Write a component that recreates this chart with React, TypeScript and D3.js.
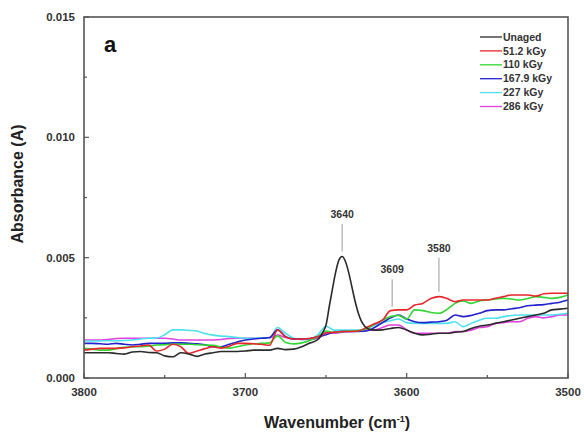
import React from "react";
import * as d3 from "d3";

// Shared wavenumber grid (cm^-1) for the irradiated series
const wavenumbers: number[] = d3.range(3800, 3499, -5);

// Absorbance values, in units of 1e-3 A
const unagedWn: number[] = [
  3800, 3795, 3790, 3785, 3780, 3775, 3770, 3765, 3760, 3755, 3750, 3745, 3740, 3735, 3730,
  3725, 3720, 3715, 3710, 3705, 3700, 3695, 3690, 3685, 3680, 3675, 3670, 3665, 3660, 3655,
  3652, 3650, 3648, 3646, 3644, 3642, 3640, 3638, 3636, 3634, 3632, 3630, 3628, 3626, 3624,
  3620, 3615, 3610, 3605, 3600, 3595, 3590, 3585, 3580, 3575, 3570, 3565, 3560, 3555, 3550,
  3545, 3540, 3535, 3530, 3525, 3520, 3515, 3510, 3505, 3500,
];
const unaged: number[] = [
  1.05, 1.05, 1.05, 1.05, 1.02, 0.99, 1.08, 1.1, 1.06, 1.05, 0.92, 0.88, 1.05, 1.0, 0.9,
  1.0, 1.05, 1.1, 1.1, 1.1, 1.12, 1.16, 1.16, 1.16, 1.23, 1.18, 1.2, 1.3, 1.45, 1.6,
  1.9, 2.2, 2.96, 3.7, 4.4, 4.9, 5.05, 4.85, 4.4, 3.8, 3.2, 2.7, 2.35, 2.15, 2.05,
  1.99, 2.0, 2.06, 2.1, 1.99, 1.86, 1.79, 1.82, 1.86, 1.86, 1.9, 1.93, 2.06, 2.15, 2.2,
  2.27, 2.34, 2.41, 2.48, 2.55, 2.62, 2.69, 2.83, 2.86, 2.9,
];
const kGy51: number[] = [
  1.16, 1.2, 1.23, 1.23, 1.23, 1.25, 1.3, 1.33, 1.37, 1.12, 1.2, 1.4, 1.3, 1.02, 1.12,
  1.22, 1.3, 1.24, 1.32, 1.44, 1.44, 1.42, 1.4, 1.36, 2.0, 1.7, 1.62, 1.62, 1.64, 1.72,
  1.86, 1.9, 1.93, 1.93, 1.95, 2.1, 2.25, 2.4, 2.8, 2.83, 2.83, 3.03, 3.1, 3.3, 3.38,
  3.3, 3.17, 3.24, 3.24, 3.24, 3.24, 3.31, 3.38, 3.45, 3.45, 3.45, 3.4, 3.5, 3.52, 3.52, 3.52,
];
const kGy110: number[] = [
  1.23, 1.2, 1.16, 1.16, 1.22, 1.28, 1.3, 1.3, 1.32, 1.37, 1.38, 1.4, 1.4, 1.4, 1.38,
  1.37, 1.36, 1.28, 1.24, 1.3, 1.37, 1.42, 1.44, 1.46, 1.75, 1.48, 1.42, 1.46, 1.56, 1.72,
  1.95, 1.9, 1.93, 1.95, 1.97, 2.05, 2.22, 2.4, 2.55, 2.6, 2.45, 2.83, 2.8, 2.72, 2.69,
  2.85, 3.1, 3.2, 3.1, 3.2, 3.24, 3.28, 3.31, 3.28, 3.24, 3.3, 3.38, 3.35, 3.31, 3.35, 3.45,
];
const kGy167: number[] = [
  1.44, 1.44, 1.42, 1.4, 1.44, 1.4, 1.37, 1.4, 1.44, 1.44, 1.44, 1.46, 1.46, 1.44, 1.42,
  1.38, 1.3, 1.3, 1.4, 1.5, 1.58, 1.62, 1.65, 1.68, 2.0, 1.72, 1.62, 1.62, 1.64, 1.7,
  1.8, 1.9, 1.93, 1.93, 1.93, 1.95, 2.1, 2.3, 2.5, 2.62, 2.45, 2.34, 2.3, 2.32, 2.34,
  2.4, 2.62, 2.55, 2.6, 2.69, 2.8, 2.83, 2.83, 2.88, 2.92, 3.0, 3.03, 3.05, 3.1, 3.15, 3.24,
];
const kGy227: number[] = [
  1.54, 1.54, 1.54, 1.55, 1.55, 1.56, 1.58, 1.62, 1.65, 1.66, 1.8, 2.0, 2.0, 1.98, 1.95,
  1.85, 1.78, 1.74, 1.72, 1.68, 1.65, 1.65, 1.66, 1.66, 2.1, 1.85, 1.65, 1.6, 1.62, 1.8,
  2.15, 1.99, 1.99, 1.99, 1.99, 2.05, 2.2, 2.3, 2.38, 2.45, 2.3, 2.27, 2.27, 2.27, 2.27,
  2.27, 2.34, 2.13, 2.27, 2.4, 2.48, 2.48, 2.55, 2.6, 2.62, 2.62, 2.62, 2.62, 2.62, 2.65, 2.69,
];
const kGy286: number[] = [
  1.58, 1.58, 1.58, 1.6, 1.64, 1.65, 1.65, 1.65, 1.65, 1.65, 1.65, 1.62, 1.58, 1.58, 1.58,
  1.58, 1.58, 1.6, 1.64, 1.65, 1.65, 1.65, 1.65, 1.66, 1.78, 1.68, 1.62, 1.6, 1.6, 1.65,
  1.9, 1.86, 1.9, 1.93, 1.95, 1.99, 2.0, 2.1, 2.2, 2.2, 2.0, 1.86, 1.86, 1.86, 1.86,
  1.86, 1.93, 1.93, 1.99, 2.1, 2.13, 2.27, 2.3, 2.34, 2.34, 2.48, 2.55, 2.5, 2.55, 2.62, 2.62,
];

const seriesNames: string[] = ["Unaged", "51.2 kGy", "110 kGy", "167.9 kGy", "227 kGy", "286 kGy"];
const seriesColors: string[] = ["#2a2a2a", "#e8262a", "#33d633", "#2222cc", "#4fe0f0", "#e040e0"];

const xTicks: number[] = [3800, 3700, 3600, 3500];
const xMinorTicks: number[] = [3750, 3650, 3550];
const yTicks: number[] = [0, 0.005, 0.01, 0.015];
const yMinorTicks: number[] = [0.0025, 0.0075, 0.0125];

const peakLabels: number[] = [3640, 3609, 3580];
const peakLabelTops: number[] = [0.0064, 0.0041, 0.005];
const peakLabelBottoms: number[] = [0.00525, 0.00296, 0.00358];

export default function App() {
  const W = 584, H = 432;
  const left = 84, right = 568, top = 17, bottom = 378;
  const x = d3.scaleLinear().domain([3800, 3500]).range([left, right]);
  const y = d3.scaleLinear().domain([0, 0.015]).range([bottom, top]);
  const font = "'Liberation Sans', Arial, sans-serif";
  const textColor = "#333";

  const series = [
    { wn: unagedWn, vals: unaged },
    { wn: wavenumbers, vals: kGy51 },
    { wn: wavenumbers, vals: kGy110 },
    { wn: wavenumbers, vals: kGy167 },
    { wn: wavenumbers, vals: kGy227 },
    { wn: wavenumbers, vals: kGy286 },
  ];
  const line = d3
    .line<[number, number]>()
    .x((d) => x(d[0]))
    .y((d) => y(d[1] * 1e-3))
    .curve(d3.curveMonotoneX);

  const drawOrder = [5, 4, 3, 2, 1, 0];

  return (
    <svg width={W} height={H} style={{ position: "absolute", left: 0, top: 0, background: "#fff" }}>
      <rect x={0} y={0} width={W} height={H} fill="#fff" />
      {drawOrder.map((i) => {
        const s = series[i];
        const pts: [number, number][] = s.wn.map((w, k) => [w, s.vals[k]]);
        return (
          <path key={i} d={line(pts) || ""} fill="none" stroke={seriesColors[i]} strokeWidth={1.6} strokeLinejoin="round" />
        );
      })}

      {/* frame */}
      <rect x={left} y={top} width={right - left} height={bottom - top} fill="none" stroke="#555" strokeWidth={1.6} />

      {/* y ticks */}
      {yTicks.map((t) => (
        <g key={"y" + t}>
          <line x1={left} x2={left + 5} y1={y(t)} y2={y(t)} stroke="#555" strokeWidth={1.2} />
          <text x={left - 9} y={y(t)} dy="0.35em" textAnchor="end" fontFamily={font} fontWeight="bold" fontSize={11.5} fill={textColor}>
            {d3.format(".3f")(t)}
          </text>
        </g>
      ))}
      {yMinorTicks.map((t) => (
        <line key={"ym" + t} x1={left} x2={left + 3} y1={y(t)} y2={y(t)} stroke="#555" strokeWidth={1.2} />
      ))}

      {/* x ticks */}
      {xTicks.map((t) => (
        <g key={"x" + t}>
          <line x1={x(t)} x2={x(t)} y1={bottom} y2={bottom - 5} stroke="#555" strokeWidth={1.2} />
          <text x={x(t)} y={bottom + 18} textAnchor="middle" fontFamily={font} fontWeight="bold" fontSize={11.5} fill={textColor}>
            {t}
          </text>
        </g>
      ))}
      {xMinorTicks.map((t) => (
        <line key={"xm" + t} x1={x(t)} x2={x(t)} y1={bottom} y2={bottom - 3} stroke="#555" strokeWidth={1.2} />
      ))}

      {/* axis titles */}
      <text
        transform={`translate(23, ${184}) rotate(-90)`}
        textAnchor="middle"
        fontFamily={font}
        fontWeight="bold"
        fontSize={16}
        fill="#222"
      >
        Absorbance (A)
      </text>
      <text x={337} y={428} textAnchor="middle" fontFamily={font} fontWeight="bold" fontSize={16} fill="#222">
        Wavenumber (cm
        <tspan dy={-6} fontSize={9}>-1</tspan>
        <tspan dy={6}>)</tspan>
      </text>

      {/* panel letter */}
      <text x={104} y={52} fontFamily={font} fontWeight="bold" fontSize={22} fill="#111">
        a
      </text>

      {/* peak annotations */}
      {peakLabels.map((p, i) => (
        <g key={"pk" + p}>
          <line x1={x(p)} x2={x(p)} y1={y(peakLabelTops[i])} y2={y(peakLabelBottoms[i])} stroke="#999" strokeWidth={1} />
          <text x={x(p)} y={y(peakLabelTops[i]) - 6} textAnchor="middle" fontFamily={font} fontWeight="bold" fontSize={10.5} fill={textColor}>
            {p}
          </text>
        </g>
      ))}

      {/* legend */}
      {seriesNames.map((name, i) => {
        const ly = 37 + i * 13.9;
        return (
          <g key={"lg" + i}>
            <line x1={480} x2={502} y1={ly} y2={ly} stroke={seriesColors[i]} strokeWidth={1.3} />
            <text x={503} y={ly} dy="0.35em" fontFamily={font} fontWeight="bold" fontSize={10.5} fill={textColor}>
              {name}
            </text>
          </g>
        );
      })}
    </svg>
  );
}
